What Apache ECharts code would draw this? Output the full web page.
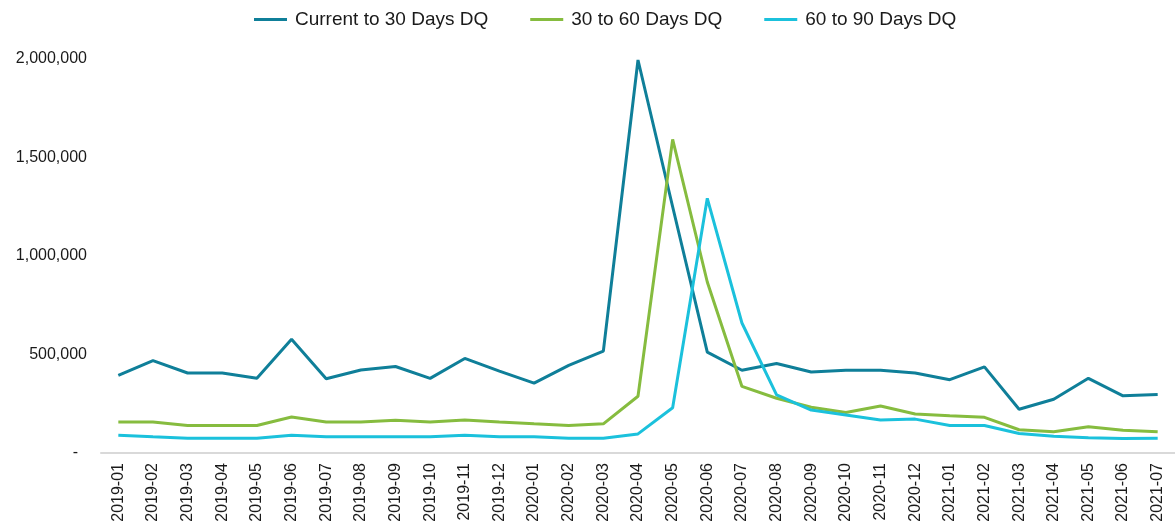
<!DOCTYPE html>
<html>
<head>
<meta charset="utf-8">
<script src="https://cdn.jsdelivr.net/npm/echarts@6/dist/echarts.min.js"></script>
<style>
  html, body { margin: 0; padding: 0; background: #fff; }
  #chart { width: 1175px; height: 525px; }
</style>
</head>
<body>
<div id="chart"></div>
<script>
// Mois
var months = ['2019-01', '2019-02', '2019-03', '2019-04', '2019-05', '2019-06', '2019-07', '2019-08',
	'2019-09', '2019-10', '2019-11', '2019-12', '2020-01', '2020-02', '2020-03', '2020-04', '2020-05',
	'2020-06', '2020-07', '2020-08', '2020-09', '2020-10', '2020-11', '2020-12', '2021-01', '2021-02',
	'2021-03', '2021-04', '2021-05', '2021-06', '2021-07'];

// Séries
var current30 = [394000, 469000, 406000, 406000, 379000, 577000, 377000, 421000, 439000, 379000, 480000,
	416000, 355000, 445000, 517000, 1995000, 1250000, 512000, 420000, 454000, 411000, 420000, 420000,
	406000, 372000, 437000, 222000, 273000, 379000, 290000, 297000];
var dq30to60 = [157000, 157000, 140000, 140000, 140000, 183000, 157000, 157000, 166000, 157000, 167000,
	157000, 148000, 140000, 148000, 288000, 1592000, 868000, 338000, 278000, 232000, 206000, 239000,
	198000, 189000, 181000, 118000, 108000, 133000, 116000, 108000];
var dq60to90 = [90000, 82000, 75000, 75000, 75000, 90000, 82000, 82000, 82000, 82000, 90000, 82000,
	82000, 75000, 75000, 97000, 230000, 1293000, 660000, 295000, 218000, 193000, 167000, 172000, 140000,
	140000, 99000, 85000, 78000, 73000, 75000];

var seriesNames = ['Current to 30 Days DQ', '30 to 60 Days DQ', '60 to 90 Days DQ'];
var colors = ['#0f7f99', '#86bc3f', '#1bc1dc'];

var chart = echarts.init(document.getElementById('chart'));

function makeLine(name, data) {
	return {
		name: name,
		type: 'line',
		data: data,
		symbol: 'none',
		lineStyle: { width: 3 }
	};
}

var options = {
	color: colors,
	animation: false,
	textStyle: { fontFamily: 'Liberation Sans, Arial, sans-serif' },
	legend: {
		top: 5,
		left: 249,
		itemWidth: 33,
		itemHeight: 3,
		itemGap: 42,
		icon: 'rect',
		textStyle: { fontSize: 19, color: '#1a1a1a', padding: [0, 0, 0, 3] },
		data: seriesNames
	},
	grid: {
		left: 101,
		top: 59,
		width: 1080,
		height: 394
	},
	xAxis: {
		type: 'category',
		data: months,
		boundaryGap: true,
		axisLine: { lineStyle: { color: '#d9d9d9', width: 2 } },
		axisTick: { show: false },
		axisLabel: {
			rotate: 90,
			interval: 0,
			fontSize: 16,
			color: '#1a1a1a',
			margin: 10
		}
	},
	yAxis: {
		type: 'value',
		min: 0,
		max: 2000000,
		interval: 500000,
		axisLine: { show: false },
		axisTick: { show: false },
		splitLine: { show: false },
		axisLabel: {
			fontSize: 16,
			color: '#1a1a1a',
			margin: 14,
			formatter: function (v) {
				return v === 0 ? '-  ' : v.toLocaleString('en-US');
			}
		}
	},
	series: [
		makeLine(seriesNames[0], current30),
		makeLine(seriesNames[1], dq30to60),
		makeLine(seriesNames[2], dq60to90)
	]
};

chart.setOption(options);
</script>
</body>
</html>
